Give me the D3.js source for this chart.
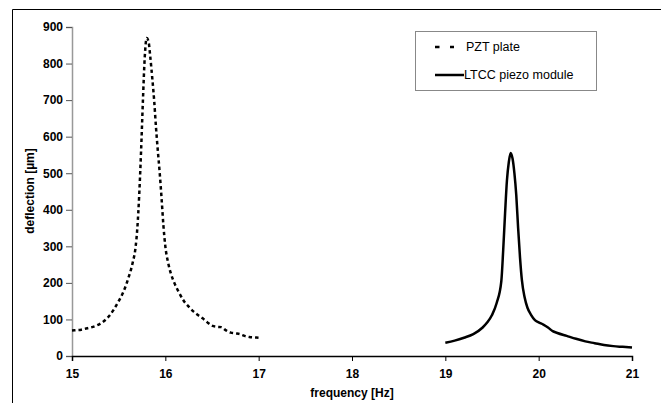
<!DOCTYPE html>
<html>
<head>
<meta charset="utf-8">
<script src="https://cdn.jsdelivr.net/npm/d3@7"></script>
<style>
  body { margin: 0; background: #fff; }
  svg { display: block; font-family: "Liberation Sans", Arial, sans-serif; }
</style>
</head>
<body>
<svg id="chart" width="661" height="403"></svg>
<script>
// PZT plate, dashed curve
const pztFreq = [15.00, 15.05, 15.10, 15.15, 15.20, 15.25, 15.30, 15.35, 15.40, 15.45, 15.50, 15.55, 15.60, 15.65, 15.68, 15.70,
  15.72, 15.74, 15.76, 15.78, 15.80, 15.82, 15.84, 15.86, 15.88, 15.90, 15.92, 15.94, 15.96, 15.98, 16.00, 16.03, 16.06,
  16.10, 16.15, 16.20, 16.25, 16.30, 16.35, 16.40, 16.45, 16.50, 16.55, 16.60, 16.65, 16.70, 16.75, 16.80, 16.85, 16.90, 16.95, 17.00];
const pztDefl = [70, 71, 72, 75, 78, 82, 88, 97, 110, 128, 150, 175, 210, 255, 295, 350,
  440, 560, 700, 820, 870, 860, 815, 760, 700, 625, 560, 500, 430, 355, 300, 255, 225,
  198, 172, 150, 135, 122, 112, 103, 92, 83, 80, 79, 70, 64, 62, 60, 55, 52, 51, 50];

// LTCC piezo module, solid curve
const ltccFreq = [19.00, 19.10, 19.20, 19.30, 19.40, 19.45, 19.50, 19.55, 19.60, 19.62, 19.64, 19.66, 19.68, 19.70, 19.72,
  19.74, 19.76, 19.78, 19.80, 19.82, 19.85, 19.88, 19.92, 19.96, 20.00, 20.05, 20.10, 20.15, 20.20, 20.30, 20.40,
  20.50, 20.60, 20.70, 20.80, 20.90, 21.00];
const ltccDefl = [36, 42, 50, 60, 78, 92, 112, 145, 205, 290, 390, 480, 530, 555, 540,
  500, 440, 350, 270, 208, 160, 132, 112, 98, 92, 86, 78, 68, 63, 55, 47,
  40, 35, 30, 27, 25, 23];

const xTicks = [15, 16, 17, 18, 19, 20, 21];
const yTicks = [0, 100, 200, 300, 400, 500, 600, 700, 800, 900];
const legendLabels = ["PZT plate", "LTCC piezo module"];

const svg = d3.select("#chart");
const plot = { left: 72, right: 632, top: 27, bottom: 356 };

const x = d3.scaleLinear().domain([15, 21]).range([plot.left, plot.right]);
const y = d3.scaleLinear().domain([0, 900]).range([plot.bottom, plot.top]);

// outer frame (only top and left edges fall inside the picture)
svg.append("path")
  .attr("d", "M12.5,403 V9.5 H661")
  .attr("fill", "none")
  .attr("stroke", "#000")
  .attr("stroke-width", 1);

// y axis
const yAxis = svg.append("g")
  .attr("transform", `translate(${plot.left},0)`)
  .call(d3.axisLeft(y).tickValues(yTicks).tickSize(6).tickPadding(3));
yAxis.select(".domain").attr("stroke", "#999").attr("stroke-width", 1.5);
yAxis.selectAll(".tick line").attr("stroke", "#555");
yAxis.selectAll("text")
  .attr("font-size", 12)
  .attr("font-weight", "bold")
  .attr("font-family", "Liberation Sans, Arial, sans-serif")
  .attr("fill", "#000");

// x axis
const xAxis = svg.append("g")
  .attr("transform", `translate(0,${plot.bottom})`)
  .call(d3.axisBottom(x).tickValues(xTicks).tickSize(5).tickPadding(8).tickFormat(d3.format("d")));
xAxis.select(".domain").attr("stroke", "#000").attr("stroke-width", 1.5);
xAxis.selectAll(".tick line").attr("stroke", "#000");
xAxis.selectAll("text")
  .attr("font-size", 12)
  .attr("font-weight", "bold")
  .attr("font-family", "Liberation Sans, Arial, sans-serif")
  .attr("fill", "#000");

// axis titles
svg.append("text")
  .attr("x", (plot.left + plot.right) / 2)
  .attr("y", 397)
  .attr("text-anchor", "middle")
  .attr("font-size", 12)
  .attr("font-weight", "bold")
  .text("frequency [Hz]");

svg.append("text")
  .attr("transform", "translate(34,191) rotate(-90)")
  .attr("text-anchor", "middle")
  .attr("font-size", 12)
  .attr("font-weight", "bold")
  .text("deflection [µm]");

// curves
const line = d3.line()
  .x((d) => x(d[0]))
  .y((d) => y(d[1]))
  .curve(d3.curveMonotoneX);

svg.append("path")
  .datum(d3.zip(pztFreq, pztDefl))
  .attr("fill", "none")
  .attr("stroke", "#000")
  .attr("stroke-width", 2.5)
  .attr("stroke-dasharray", "3.5,3")
  .attr("d", line);

svg.append("path")
  .datum(d3.zip(ltccFreq, ltccDefl))
  .attr("fill", "none")
  .attr("stroke", "#000")
  .attr("stroke-width", 2.5)
  .attr("d", line);

// legend
const legend = svg.append("g");
legend.append("rect")
  .attr("x", 415.5).attr("y", 31.5)
  .attr("width", 181).attr("height", 59)
  .attr("fill", "#fff")
  .attr("stroke", "#888")
  .attr("stroke-width", 1);

const legendRows = [
  { label: legendLabels[0], y: 47, dash: "4.5,10.5", x2: 454, tx: 466 },
  { label: legendLabels[1], y: 75, dash: null, x2: 464, tx: 464 }
];
legendRows.forEach((r) => {
  legend.append("line")
    .attr("x1", 435).attr("x2", r.x2)
    .attr("y1", r.y).attr("y2", r.y)
    .attr("stroke", "#000")
    .attr("stroke-width", 2.5)
    .attr("stroke-dasharray", r.dash);
  legend.append("text")
    .attr("x", r.tx)
    .attr("y", r.y)
    .attr("dy", "0.35em")
    .attr("font-size", 12.5)
    .text(r.label);
});
</script>
</body>
</html>
